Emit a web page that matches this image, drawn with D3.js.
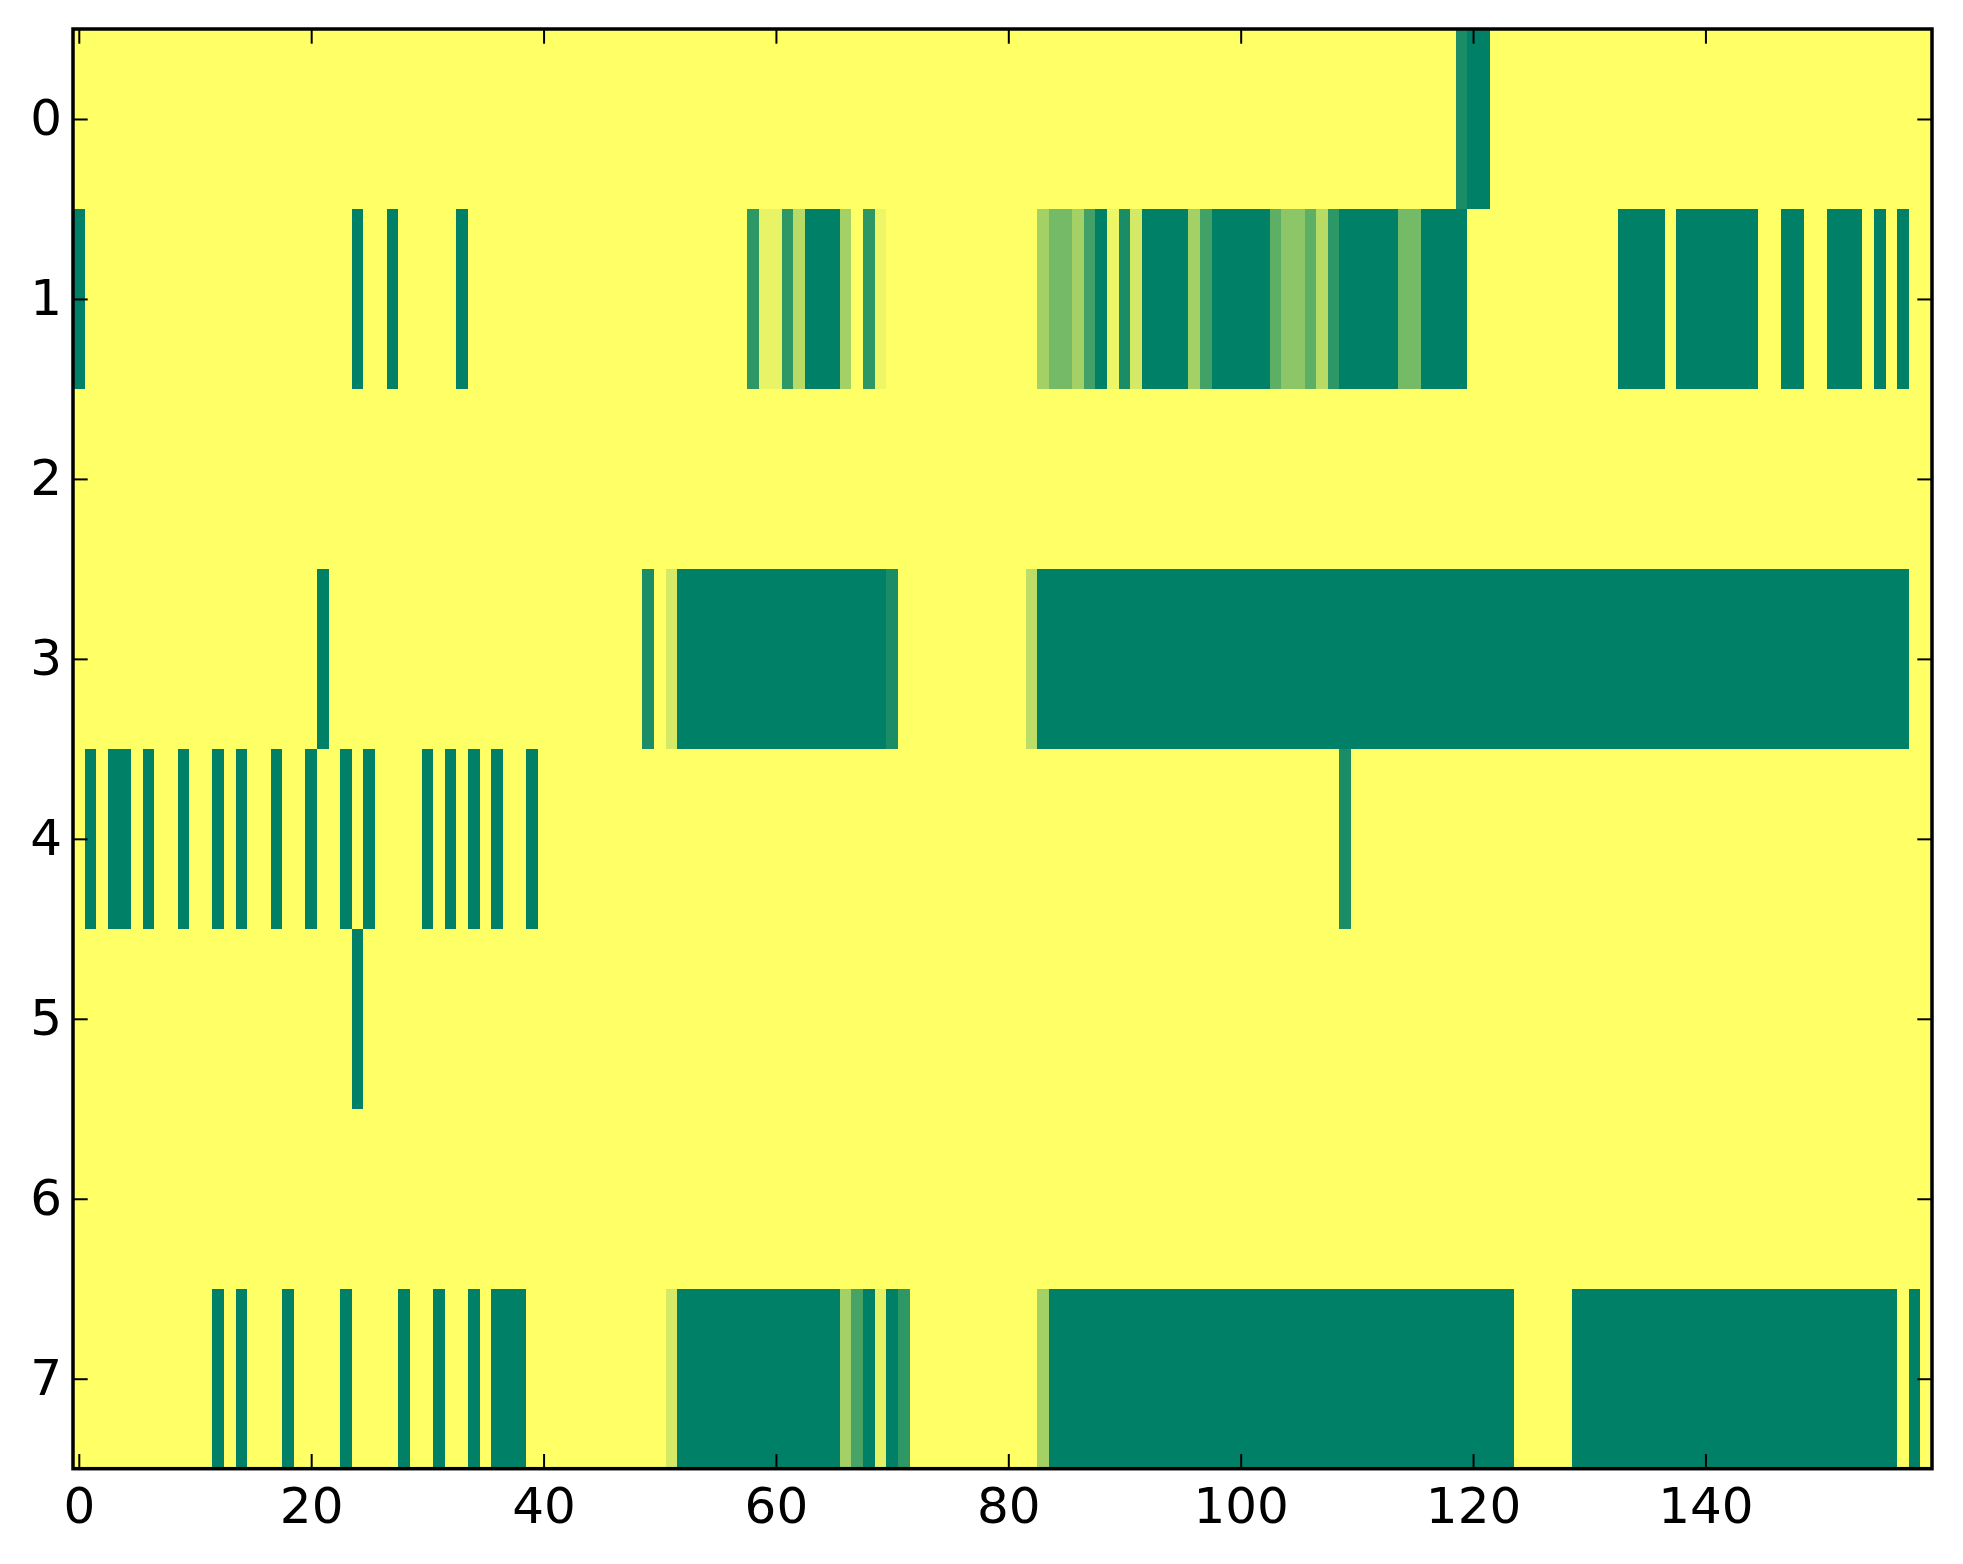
<!DOCTYPE html>
<html>
<head>
<meta charset="utf-8">
<script src="https://cdn.jsdelivr.net/npm/d3@7"></script>
<style>
  body { margin: 0; background: #ffffff; }
  .tick text { font-family: "DejaVu Sans", sans-serif; font-size: 50px; fill: #000; }
  .tick line { stroke: #000; stroke-width: 2px; }
  rect.cell { shape-rendering: crispEdges; }
</style>
</head>
<body>
<div id="chart"></div>
<script>
   // one array per image row, 160 cells each (0 = empty, 1 = full)
   var row0 = [0,0,0,0,0,0,0,0,0,0, 0,0,0,0,0,0,0,0,0,0, 0,0,0,0,0,0,0,0,0,0, 0,0,0,0,0,0,0,0,0,0,
               0,0,0,0,0,0,0,0,0,0, 0,0,0,0,0,0,0,0,0,0, 0,0,0,0,0,0,0,0,0,0, 0,0,0,0,0,0,0,0,0,0,
               0,0,0,0,0,0,0,0,0,0, 0,0,0,0,0,0,0,0,0,0, 0,0,0,0,0,0,0,0,0,0, 0,0,0,0,0,0,0,0,0,0.9,
               1,1,0,0,0,0,0,0,0,0, 0,0,0,0,0,0,0,0,0,0, 0,0,0,0,0,0,0,0,0,0, 0,0,0,0,0,0,0,0,0,0];

   var row1 = [1,0,0,0,0,0,0,0,0,0, 0,0,0,0,0,0,0,0,0,0, 0,0,0,0,1,0,0,1,0,0, 0,0,0,1,0,0,0,0,0,0,
               0,0,0,0,0,0,0,0,0,0, 0,0,0,0,0,0,0,0,0.82,0.09, 0.09,0.82,0.28,1,1,1,0.36,0,0.82,0.07, 0,0,0,0,0,0,0,0,0,0,
               0,0,0,0.36,0.54,0.54,0.36,0.74,1,0.07, 0.9,0.17,1,1,1,1,0.36,0.74,1,1, 1,1,1,0.63,0.45,0.45,0.63,0.28,0.82,1, 1,1,1,1,0.54,0.54,1,1,1,1,
               0,0,0,0,0,0,0,0,0,0, 0,0,0,1,1,1,1,0,1,1, 1,1,1,1,1,0,0,1,1,0, 0,1,1,1,0,1,0,1,0,0];

   var row2 = [0,0,0,0,0,0,0,0,0,0, 0,0,0,0,0,0,0,0,0,0, 0,0,0,0,0,0,0,0,0,0, 0,0,0,0,0,0,0,0,0,0,
               0,0,0,0,0,0,0,0,0,0, 0,0,0,0,0,0,0,0,0,0, 0,0,0,0,0,0,0,0,0,0, 0,0,0,0,0,0,0,0,0,0,
               0,0,0,0,0,0,0,0,0,0, 0,0,0,0,0,0,0,0,0,0, 0,0,0,0,0,0,0,0,0,0, 0,0,0,0,0,0,0,0,0,0,
               0,0,0,0,0,0,0,0,0,0, 0,0,0,0,0,0,0,0,0,0, 0,0,0,0,0,0,0,0,0,0, 0,0,0,0,0,0,0,0,0,0];

   var row3 = [0,0,0,0,0,0,0,0,0,0, 0,0,0,0,0,0,0,0,0,0, 0,1,0,0,0,0,0,0,0,0, 0,0,0,0,0,0,0,0,0,0,
               0,0,0,0,0,0,0,0,0,0.9, 0,0.17,1,1,1,1,1,1,1,1, 1,1,1,1,1,1,1,1,1,1, 0.9,0,0,0,0,0,0,0,0,0,
               0,0,0.26,1,1,1,1,1,1,1, 1,1,1,1,1,1,1,1,1,1, 1,1,1,1,1,1,1,1,1,1, 1,1,1,1,1,1,1,1,1,1,
               1,1,1,1,1,1,1,1,1,1, 1,1,1,1,1,1,1,1,1,1, 1,1,1,1,1,1,1,1,1,1, 1,1,1,1,1,1,1,1,0,0];

   var row4 = [0,1,0,1,1,0,1,0,0,1, 0,0,1,0,1,0,0,1,0,0, 1,0,0,1,0,1,0,0,0,0, 1,0,1,0,1,0,1,0,0,1,
               0,0,0,0,0,0,0,0,0,0, 0,0,0,0,0,0,0,0,0,0, 0,0,0,0,0,0,0,0,0,0, 0,0,0,0,0,0,0,0,0,0,
               0,0,0,0,0,0,0,0,0,0, 0,0,0,0,0,0,0,0,0,0, 0,0,0,0,0,0,0,0,0,0.9, 0,0,0,0,0,0,0,0,0,0,
               0,0,0,0,0,0,0,0,0,0, 0,0,0,0,0,0,0,0,0,0, 0,0,0,0,0,0,0,0,0,0, 0,0,0,0,0,0,0,0,0,0];

   var row5 = [0,0,0,0,0,0,0,0,0,0, 0,0,0,0,0,0,0,0,0,0, 0,0,0,0,1,0,0,0,0,0, 0,0,0,0,0,0,0,0,0,0,
               0,0,0,0,0,0,0,0,0,0, 0,0,0,0,0,0,0,0,0,0, 0,0,0,0,0,0,0,0,0,0, 0,0,0,0,0,0,0,0,0,0,
               0,0,0,0,0,0,0,0,0,0, 0,0,0,0,0,0,0,0,0,0, 0,0,0,0,0,0,0,0,0,0, 0,0,0,0,0,0,0,0,0,0,
               0,0,0,0,0,0,0,0,0,0, 0,0,0,0,0,0,0,0,0,0, 0,0,0,0,0,0,0,0,0,0, 0,0,0,0,0,0,0,0,0,0];

   var row6 = [0,0,0,0,0,0,0,0,0,0, 0,0,0,0,0,0,0,0,0,0, 0,0,0,0,0,0,0,0,0,0, 0,0,0,0,0,0,0,0,0,0,
               0,0,0,0,0,0,0,0,0,0, 0,0,0,0,0,0,0,0,0,0, 0,0,0,0,0,0,0,0,0,0, 0,0,0,0,0,0,0,0,0,0,
               0,0,0,0,0,0,0,0,0,0, 0,0,0,0,0,0,0,0,0,0, 0,0,0,0,0,0,0,0,0,0, 0,0,0,0,0,0,0,0,0,0,
               0,0,0,0,0,0,0,0,0,0, 0,0,0,0,0,0,0,0,0,0, 0,0,0,0,0,0,0,0,0,0, 0,0,0,0,0,0,0,0,0,0];

   var row7 = [0,0,0,0,0,0,0,0,0,0, 0,0,1,0,1,0,0,0,1,0, 0,0,0,1,0,0,0,0,1,0, 0,1,0,0,1,0,1,1,1,0,
               0,0,0,0,0,0,0,0,0,0, 0,0.17,1,1,1,1,1,1,1,1, 1,1,1,1,1,1,0.36,0.72,1,0.1, 1,0.82,0,0,0,0,0,0,0,0,
               0,0,0,0.36,1,1,1,1,1,1, 1,1,1,1,1,1,1,1,1,1, 1,1,1,1,1,1,1,1,1,1, 1,1,1,1,1,1,1,1,1,1,
               1,1,1,1,0,0,0,0,0,1, 1,1,1,1,1,1,1,1,1,1, 1,1,1,1,1,1,1,1,1,1, 1,1,1,1,1,1,1,0,1,0];

   var rows = [row0, row1, row2, row3, row4, row5, row6, row7];

   // tick labels
   var xTicks = [0, 20, 40, 60, 80, 100, 120, 140];
   var yTicks = [0, 1, 2, 3, 4, 5, 6, 7];

   var svgWidth = 1963;
   var svgHeight = 1564;

   // plot box in page pixels
   var margin = {
       top: 29,
       right: 31,
       bottom: 95.3,
       left: 73
   };

   var width = svgWidth - margin.left - margin.right;
   var height = svgHeight - margin.top - margin.bottom;

   var svg = d3.select("#chart")
       .append("svg")
       .attr("width", svgWidth)
       .attr("height", svgHeight);

   var chartGroup = svg.append("g")
       .attr("transform", `translate(${margin.left}, ${margin.top})`);

   var nCols = row0.length;

   var xScale = d3.scaleLinear()
       .domain([-0.5, nCols - 0.5])
       .range([0, width]);

   var yScale = d3.scaleLinear()
       .domain([-0.5, rows.length - 0.5])
       .range([0, height]);

   // summer_r colormap
   var color = d3.scaleLinear()
       .domain([0, 1])
       .range(["#ffff66", "#008066"]);

   // flatten to cells
   var cells = [];
   rows.forEach(function(row, r) {
       row.forEach(function(v, c) {
           cells.push({ row: r, col: c, value: v });
       });
   });

   chartGroup.selectAll("rect.cell")
       .data(cells)
       .enter()
       .append("rect")
       .attr("class", "cell")
       .attr("x", d => xScale(d.col - 0.5))
       .attr("y", d => yScale(d.row - 0.5))
       .attr("width", d => xScale(d.col + 0.5) - xScale(d.col - 0.5))
       .attr("height", d => yScale(d.row + 0.5) - yScale(d.row - 0.5))
       .attr("fill", d => color(d.value));

   var tickLen = 14.7;

   // axes, ticks pointing inward on all four sides
   var bottomAxis = d3.axisBottom(xScale)
       .tickValues(xTicks)
       .tickSize(-tickLen)
       .tickPadding(19);
   var topAxis = d3.axisTop(xScale)
       .tickValues(xTicks)
       .tickSize(-tickLen)
       .tickFormat("");
   var leftAxis = d3.axisLeft(yScale)
       .tickValues(yTicks)
       .tickSize(-tickLen)
       .tickPadding(11);
   var rightAxis = d3.axisRight(yScale)
       .tickValues(yTicks)
       .tickSize(-tickLen)
       .tickFormat("");

   chartGroup.append("g")
       .attr("transform", `translate(0, ${height})`)
       .call(bottomAxis);
   chartGroup.append("g")
       .call(topAxis);
   chartGroup.append("g")
       .call(leftAxis);
   chartGroup.append("g")
       .attr("transform", `translate(${width}, 0)`)
       .call(rightAxis);

   chartGroup.selectAll(".domain").remove();
   chartGroup.selectAll(".tick text").attr("font-family", null).attr("font-size", null);

   // frame
   chartGroup.append("rect")
       .attr("width", width)
       .attr("height", height)
       .attr("fill", "none")
       .attr("stroke", "#000")
       .attr("stroke-width", 3.5);
</script>
</body>
</html>
